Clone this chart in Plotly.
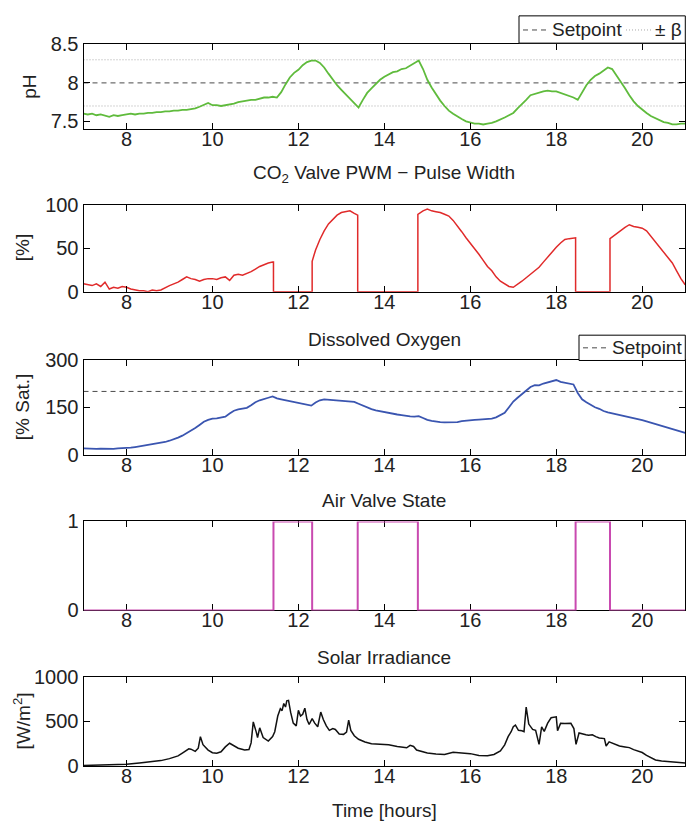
import plotly.graph_objects as go

# ---------------- data ----------------
# pH sampled every 0.1 h from 7.0 to 21.0
ph_time = [round(7.0 + 0.1 * i, 1) for i in range(141)]
ph_value = [
    7.60, 7.59, 7.60, 7.58, 7.59, 7.57, 7.56, 7.58, 7.57, 7.58,
    7.59, 7.60, 7.59, 7.60, 7.60, 7.61, 7.61, 7.62, 7.62, 7.63,
    7.63, 7.64, 7.64, 7.65, 7.65, 7.66, 7.67, 7.69, 7.71, 7.74,
    7.71, 7.71, 7.70, 7.71, 7.72, 7.73, 7.75, 7.76, 7.77, 7.78,
    7.78, 7.80, 7.81, 7.81, 7.82, 7.81, 7.88, 7.98, 8.07, 8.13,
    8.17, 8.23, 8.27, 8.29, 8.29, 8.26, 8.20, 8.12, 8.04, 7.97,
    7.91, 7.85, 7.79, 7.73, 7.68, 7.78, 7.87, 7.93, 7.99, 8.04,
    8.08, 8.11, 8.14, 8.15, 8.18, 8.19, 8.22, 8.25, 8.29, 8.18,
    8.04, 7.94, 7.85, 7.77, 7.70, 7.64, 7.60, 7.56, 7.53, 7.50,
    7.48, 7.47, 7.47, 7.46, 7.47, 7.48, 7.50, 7.52, 7.55, 7.58,
    7.61, 7.67, 7.72, 7.78, 7.84, 7.86, 7.88, 7.89, 7.90, 7.89,
    7.89, 7.87, 7.86, 7.84, 7.81, 7.78, 7.87, 7.97, 8.04, 8.09,
    8.12, 8.16, 8.20, 8.18, 8.10, 8.02, 7.93, 7.84, 7.76, 7.70,
    7.65, 7.61, 7.57, 7.54, 7.51, 7.49, 7.48, 7.46, 7.46, 7.47,
    7.47,
]
ph_setpoint = 8.0
ph_beta = 0.3

# CO2 valve PWM pulse width [%]
pwm_time = [
    7.0, 7.1, 7.2, 7.3, 7.4, 7.5, 7.6, 7.7, 7.8, 7.9,
    8.0, 8.1, 8.2, 8.3, 8.4, 8.5, 8.6, 8.7, 8.8, 8.9,
    9.0, 9.1, 9.2, 9.3, 9.4, 9.5, 9.6, 9.7, 9.8, 9.9,
    10.0, 10.1, 10.2, 10.3, 10.4, 10.5, 10.6, 10.7, 10.8, 10.9,
    11.0, 11.1, 11.2, 11.3, 11.4, 11.42, 11.42, 12.32, 12.32,
    12.4, 12.5, 12.6, 12.7, 12.8, 12.9, 13.0, 13.1, 13.2, 13.3,
    13.38, 13.38, 14.78, 14.78,
    14.9, 15.0, 15.1, 15.2, 15.3, 15.4, 15.5, 15.6, 15.7, 15.8, 15.9,
    16.0, 16.1, 16.2, 16.3, 16.4, 16.5, 16.6, 16.7, 16.8, 16.9,
    17.0, 17.1, 17.2, 17.3, 17.4, 17.5, 17.6, 17.7, 17.8, 17.9,
    18.0, 18.1, 18.2, 18.3, 18.4, 18.45, 18.45, 19.25, 19.25,
    19.3, 19.4, 19.5, 19.6, 19.7, 19.8, 19.9, 20.0, 20.1, 20.2,
    20.3, 20.4, 20.5, 20.6, 20.7, 20.8, 20.9, 21.0,
]
pwm_value = [
    9, 8, 7, 9, 6, 11, 3, 5, 4, 6,
    5, 3, 2, 1, 1, 0, 2, 1, 2, 5,
    7, 9, 11, 14, 17, 15, 14, 12, 14, 15,
    15, 14, 16, 17, 13, 19, 20, 19, 21, 23,
    26, 29, 31, 33, 34, 34, 0, 0, 35,
    48, 60, 70, 78, 83, 88, 91, 92, 93, 90,
    88, 0, 0, 89,
    93, 95, 93, 92, 91, 89, 87, 82, 76, 69, 62,
    56, 50, 43, 36, 29, 24, 17, 12, 9, 6,
    5, 8, 12, 16, 20, 23, 28, 34, 40, 46,
    51, 56, 60, 61, 62, 62, 0, 0, 61,
    63, 66, 70, 74, 77, 75, 74, 73, 70, 64,
    58, 52, 46, 39, 33, 24, 15, 8,
]

# Dissolved oxygen [% sat.] sampled every 0.1 h from 7.0 to 21.0
do_time = [round(7.0 + 0.1 * i, 1) for i in range(141)]
do_value = [
    20, 19, 20, 18, 19, 18, 19, 18, 20, 20,
    21, 22, 24, 26, 28, 30, 32, 35, 38, 40,
    44, 48, 54, 60, 68, 75, 84, 94, 104, 110,
    114, 115, 117, 120, 130, 139, 143, 146, 148, 156,
    166, 172, 177, 180, 184, 178, 175, 172, 170, 166,
    162, 160, 157, 155, 165, 172, 175, 174, 173, 171,
    172, 170, 169, 167, 161, 155, 149, 144, 140, 137,
    134, 131, 129, 127, 125, 122, 121, 120, 122, 116,
    110, 107, 104, 103, 102, 102, 101, 103, 106, 108,
    110, 110, 111, 112, 113, 114, 118, 124, 132, 150,
    168, 180, 192, 205, 214, 220, 219, 225, 229, 231,
    236, 230, 228, 226, 222, 195, 175, 166, 158, 150,
    145, 138, 134, 131, 128, 126, 123, 119, 116, 112,
    109, 105, 101, 97, 94, 90, 86, 82, 77, 73,
    69,
]
do_setpoint = 200

# Air valve state (0 = closed, 1 = open), held until the next switching time
valve_time = [7.0, 11.42, 12.32, 13.38, 14.78, 18.45, 19.25, 21.0]
valve_state = [0, 1, 0, 1, 0, 1, 0, 0]

# Solar irradiance [W/m^2]
irr_time = [
    7.0, 7.5, 8.0, 8.3, 8.5, 8.8, 9.0, 9.2, 9.3, 9.4, 9.45, 9.5, 9.6, 9.67,
    9.72, 9.78, 9.85, 9.9, 10.0, 10.1, 10.2, 10.3, 10.4, 10.5, 10.6, 10.75,
    10.85, 10.9, 10.95, 11.02, 11.05, 11.1, 11.18, 11.3, 11.4, 11.45, 11.52,
    11.58, 11.62, 11.66, 11.7, 11.73, 11.77, 11.82, 11.88, 11.95, 12.0, 12.05,
    12.1, 12.15, 12.2, 12.25, 12.32, 12.38, 12.45, 12.52, 12.58, 12.65, 12.72,
    12.8, 12.86, 12.95, 13.05, 13.12, 13.17, 13.22, 13.3, 13.4, 13.55, 13.7,
    13.9, 14.1, 14.3, 14.45, 14.52, 14.6, 14.68, 14.75, 14.9, 15.0, 15.2, 15.4,
    15.6, 15.8, 16.0, 16.2, 16.4, 16.55, 16.7, 16.8, 16.88, 16.95, 17.0, 17.05,
    17.12, 17.2, 17.25, 17.3, 17.36, 17.45, 17.52, 17.6, 17.66, 17.72, 17.8,
    17.88, 18.0, 18.03, 18.1, 18.2, 18.34, 18.41, 18.46, 18.53, 18.62, 18.69,
    18.75, 18.84, 18.92, 19.0, 19.12, 19.16, 19.23, 19.3, 19.4, 19.47, 19.6,
    19.7, 19.8, 19.9, 20.0, 20.1, 20.16, 20.25, 20.31, 20.45, 20.63, 20.8, 21.0,
]
irr_value = [
    8, 10, 20, 35, 48, 62, 84, 115, 146, 185, 194, 190, 165, 200,
    330, 240, 210, 180, 150, 145, 160, 215, 256, 225, 200, 180,
    185, 260, 494, 380, 320, 428, 320, 280, 330, 385, 560,
    641, 620, 700, 660, 730, 735, 600, 480, 450, 623, 560,
    580, 648, 520, 465, 530, 480, 440, 604, 520, 450, 400,
    420, 410, 360, 355, 380, 513, 400, 340, 300, 270, 250,
    245, 238, 220, 205, 205, 232, 220, 180, 160, 148, 135, 130,
    155, 150, 140, 120, 117, 130, 170, 238, 330, 385, 440, 458,
    400, 395, 385, 660, 470, 410, 400, 243, 438, 388, 480,
    540, 551, 395, 478, 475, 478, 420, 243, 370, 355, 351,
    345, 351, 330, 315, 308, 225, 272, 260, 235, 225, 215,
    207, 185, 170, 152, 120, 105, 80, 69, 58, 51, 45, 36,
]

x_ticks = [8, 10, 12, 14, 16, 18, 20]

# ---------------- styling ----------------
W, H = 686, 831
FONT = "Liberation Sans, Arial, Helvetica, sans-serif"
TICK_SIZE = 20
TITLE_SIZE = 19
TEXT = "#222222"
SETPOINT_COLOR = "#4a4a4a"
BETA_COLOR = "#a8a8a8"
SETPOINT_DASH = "5px,4px"
BETA_DASH = "1px,2px"

X_LEFT, X_RIGHT = 83.5, 685.2
# (top, bottom) of each panel in pixels
panels = [(34.3, 121.3), (199.0, 288.3), (358.3, 455.7), (524.3, 615.7), (683.7, 775.7)]
y_ranges = [[7.4, 8.5], [0, 100], [0, 300], [0, 1], [0, 1000]]
y_ticks = [[7.5, 8, 8.5], [0, 50, 100], [0, 150, 300], [0, 1], [0, 500, 1000]]
y_ticktext = [["7.5", "8", "8.5"], None, None, None, None]


def px(p):
    return p / W


def py(p):
    return 1 - p / H


fig = go.Figure()

# pH panel
fig.add_trace(go.Scatter(x=[7, 21], y=[ph_setpoint, ph_setpoint], mode="lines",
                         line=dict(color=SETPOINT_COLOR, width=1, dash=SETPOINT_DASH),
                         name="Setpoint", showlegend=False, xaxis="x", yaxis="y"))
fig.add_trace(go.Scatter(x=[7, 21, None, 7, 21],
                         y=[ph_setpoint + ph_beta, ph_setpoint + ph_beta, None,
                            ph_setpoint - ph_beta, ph_setpoint - ph_beta],
                         mode="lines", line=dict(color=BETA_COLOR, width=1, dash=BETA_DASH),
                         name="± β", showlegend=False, xaxis="x", yaxis="y"))
fig.add_trace(go.Scatter(x=ph_time, y=ph_value, mode="lines",
                         line=dict(color="#5fbb3c", width=1.8),
                         showlegend=False, xaxis="x", yaxis="y"))

# CO2 PWM panel
fig.add_trace(go.Scatter(x=pwm_time, y=pwm_value, mode="lines",
                         line=dict(color="#e02a2a", width=1.5),
                         showlegend=False, xaxis="x2", yaxis="y2"))

# Dissolved oxygen panel
fig.add_trace(go.Scatter(x=[7, 21], y=[do_setpoint, do_setpoint], mode="lines",
                         line=dict(color=SETPOINT_COLOR, width=1, dash=SETPOINT_DASH),
                         name="Setpoint", showlegend=False, xaxis="x3", yaxis="y3"))
fig.add_trace(go.Scatter(x=do_time, y=do_value, mode="lines",
                         line=dict(color="#3a55b0", width=1.8),
                         showlegend=False, xaxis="x3", yaxis="y3"))

# Air valve panel
fig.add_trace(go.Scatter(x=valve_time, y=valve_state, mode="lines",
                         line=dict(color="#c94ab0", width=2, shape="hv"),
                         showlegend=False, xaxis="x4", yaxis="y4"))

# Solar irradiance panel
fig.add_trace(go.Scatter(x=irr_time, y=irr_value, mode="lines",
                         line=dict(color="#111111", width=1.5),
                         showlegend=False, xaxis="x5", yaxis="y5"))

axis_common = dict(showline=True, linecolor="black", linewidth=1, mirror="ticks",
                   ticks="inside", ticklen=6, tickcolor="black", tickwidth=1,
                   showgrid=False, zeroline=False, fixedrange=True,
                   tickfont=dict(family=FONT, size=TICK_SIZE, color=TEXT))

layout = dict(width=W, height=H, margin=dict(l=0, r=0, t=0, b=0),
              plot_bgcolor="white", paper_bgcolor="white", showlegend=False,
              font=dict(family=FONT, size=TICK_SIZE, color=TEXT))

for i, (top, bot) in enumerate(panels):
    s = "" if i == 0 else str(i + 1)
    xa = dict(axis_common, domain=[px(X_LEFT), px(X_RIGHT)], range=[7, 21],
              tickvals=x_ticks, anchor="y" + s, ticklabelstandoff=-8)
    ya = dict(axis_common, domain=[py(bot), py(top)], range=y_ranges[i],
              tickvals=y_ticks[i], anchor="x" + s)
    if y_ticktext[i]:
        ya["ticktext"] = y_ticktext[i]
    if i == 3:
        xa["layer"] = "below traces"
        ya["layer"] = "below traces"
    layout["xaxis" + s] = xa
    layout["yaxis" + s] = ya

shapes = []
annotations = []


def legend_box(x0, y0, x1, y1):
    shapes.append(dict(type="rect", xref="paper", yref="paper",
                       x0=px(x0), x1=px(x1), y0=py(y1), y1=py(y0),
                       line=dict(color="black", width=1), fillcolor="white"))


def legend_sample(x0, x1, yc, color, dash):
    shapes.append(dict(type="line", xref="paper", yref="paper",
                       x0=px(x0), x1=px(x1), y0=py(yc), y1=py(yc),
                       line=dict(color=color, width=1, dash=dash)))


def legend_text(text, x, yc):
    annotations.append(dict(text=text, x=px(x), y=py(yc), xref="paper", yref="paper",
                            xanchor="left", yanchor="middle", showarrow=False, borderpad=0,
                            font=dict(family=FONT, size=TITLE_SIZE, color=TEXT)))


# legend of the pH panel
legend_box(519, 5, 685.3, 33)
legend_sample(523, 549, 19.5, SETPOINT_COLOR, SETPOINT_DASH)
legend_text("Setpoint", 551, 19.5)
legend_sample(626, 652, 19.5, BETA_COLOR, BETA_DASH)
legend_text("± β", 654, 19.5)

# legend of the dissolved oxygen panel
legend_box(579, 333, 685.3, 359)
legend_sample(583, 609, 346, SETPOINT_COLOR, SETPOINT_DASH)
legend_text("Setpoint", 611, 346)

# panel titles
centre_x = px((X_LEFT + X_RIGHT) / 2)
for text, ypix in [("CO<sub>2</sub> Valve PWM − Pulse Width", 167),
                   ("Dissolved Oxygen", 337),
                   ("Air Valve State", 503),
                   ("Solar Irradiance", 664),
                   ("Time [hours]", 821)]:
    annotations.append(dict(text=text, x=centre_x, y=py(ypix), xref="paper", yref="paper",
                            xanchor="center", yanchor="middle", showarrow=False,
                            font=dict(family=FONT, size=TITLE_SIZE, color=TEXT)))
# y-axis labels
for text, xpix, (top, bot) in [("pH", 30, panels[0]), ("[%]", 22, panels[1]),
                               ("[% Sat.]", 22, panels[2]),
                               ("[W/m<sup>2</sup>]", 22, panels[4])]:
    annotations.append(dict(text=text, x=px(xpix), y=py((top + bot) / 2), xref="paper",
                            yref="paper", xanchor="center", yanchor="middle",
                            textangle=-90, showarrow=False,
                            font=dict(family=FONT, size=TITLE_SIZE, color=TEXT)))

layout["shapes"] = shapes
layout["annotations"] = annotations

fig.update_layout(layout)
fig.write_html("out.html")
